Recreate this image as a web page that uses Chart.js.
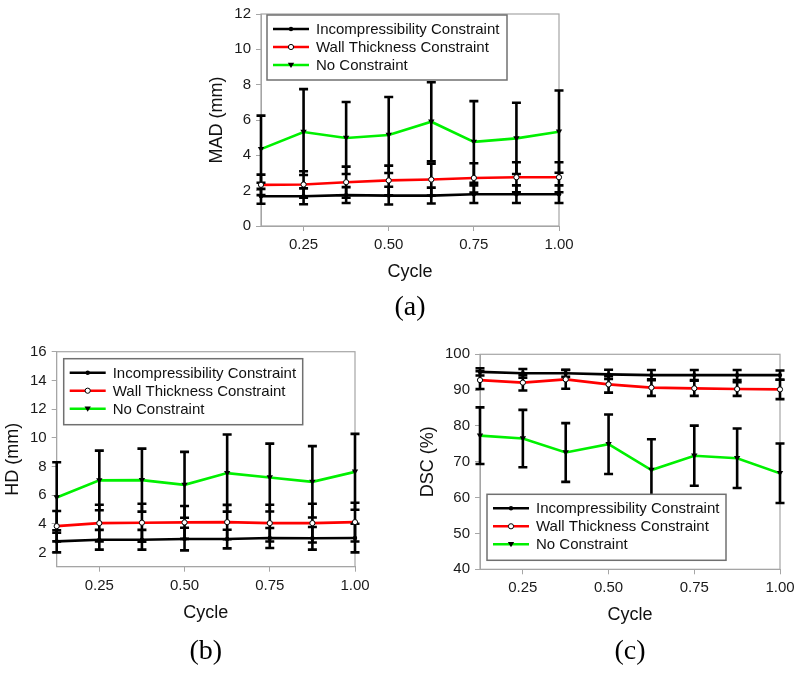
<!DOCTYPE html>
<html>
<head>
<meta charset="utf-8">
<script src="https://cdn.jsdelivr.net/npm/chart.js@4.4.1/dist/chart.umd.min.js"></script>
<style>
  html, body { margin: 0; padding: 0; background: #fff; }
  body { width: 800px; height: 676px; position: relative; overflow: hidden; }
  canvas { position: absolute; }
</style>
</head>
<body>
<canvas id="chartA" width="420" height="330" style="left:170px;top:0px"></canvas>
<canvas id="chartB" width="380" height="341" style="left:0px;top:335px"></canvas>
<canvas id="chartC" width="400" height="341" style="left:400px;top:335px"></canvas>
<script>
// cardiac cycle fraction (x axis)
const cycles = [0.125, 0.25, 0.375, 0.5, 0.625, 0.75, 0.875, 1.0];
const cycleTicks = [0.25, 0.5, 0.75, 1.0];
const seriesNames = ['Incompressibility Constraint', 'Wall Thickness Constraint', 'No Constraint'];

// (a) MAD (mm)
const madIncomp   = [1.68, 1.68, 1.75, 1.72, 1.72, 1.80, 1.80, 1.80];
const madIncompSd = [0.42, 0.45, 0.45, 0.50, 0.45, 0.50, 0.50, 0.50];
const madWall     = [2.33, 2.35, 2.48, 2.58, 2.63, 2.72, 2.76, 2.76];
const madWallSd   = [0.58, 0.75, 0.88, 0.84, 0.90, 0.83, 0.85, 0.85];
const madNone     = [4.35, 5.32, 4.98, 5.15, 5.90, 4.76, 4.96, 5.34];
const madNoneSd   = [1.90, 2.43, 2.04, 2.15, 2.24, 2.31, 2.02, 2.33];
const madTicks    = [0, 2, 4, 6, 8, 10, 12];

// (b) HD (mm)
const hdIncomp   = [2.77, 2.88, 2.88, 2.93, 2.93, 3.00, 2.98, 3.00];
const hdIncompSd = [0.77, 0.69, 0.69, 0.79, 0.65, 0.70, 0.79, 1.00];
const hdWall     = [3.83, 4.04, 4.07, 4.09, 4.11, 4.04, 4.04, 4.11];
const hdWallSd   = [1.06, 1.28, 1.32, 1.15, 1.20, 1.28, 1.35, 1.35];
const hdNone     = [5.83, 7.02, 7.04, 6.71, 7.53, 7.22, 6.92, 7.62];
const hdNoneSd   = [2.46, 2.08, 2.20, 2.30, 2.69, 2.37, 2.49, 2.65];
const hdTicks    = [2, 4, 6, 8, 10, 12, 14, 16];

// (c) DSC (%)
const dscIncomp   = [95.1, 94.7, 94.7, 94.4, 94.2, 94.2, 94.2, 94.2];
const dscIncompSd = [1.0, 1.2, 1.0, 1.3, 1.4, 1.4, 1.4, 1.3];
const dscWall     = [92.8, 92.1, 93.0, 91.6, 90.7, 90.5, 90.3, 90.2];
const dscWallSd   = [2.5, 2.2, 2.6, 2.3, 2.3, 2.1, 1.9, 2.7];
const dscNone     = [77.3, 76.5, 72.6, 74.9, 67.7, 71.7, 71.0, 66.8];
const dscNoneSd   = [7.9, 8.0, 8.2, 8.3, 8.6, 8.4, 8.3, 8.3];
const dscTicks    = [40, 50, 60, 70, 80, 90, 100];

const SANS = "'Liberation Sans', Arial, sans-serif";
const SERIF = "'Liberation Serif', 'Times New Roman', serif";
const AXIS_GRAY = '#a6a6a6';

const seriesStyles = [
    { color: '#000000', marker: 'dot' },
    { color: '#ff0000', marker: 'hollow' },
    { color: '#00f000', marker: 'tri' }
];

function drawMarker(ctx, kind, x, y) {
    ctx.save();
    ctx.fillStyle = '#000';
    ctx.strokeStyle = '#000';
    ctx.lineWidth = 1;
    ctx.beginPath();
    if (kind === 'dot') {
        ctx.arc(x, y, 2.2, 0, Math.PI * 2);
        ctx.fill();
    } else if (kind === 'hollow') {
        ctx.arc(x, y, 2.6, 0, Math.PI * 2);
        ctx.fillStyle = '#fff';
        ctx.fill();
        ctx.stroke();
    } else {
        ctx.moveTo(x - 3.2, y - 2.2);
        ctx.lineTo(x + 3.2, y - 2.2);
        ctx.lineTo(x, y + 3);
        ctx.closePath();
        ctx.fill();
    }
    ctx.restore();
}

// gray frame round the plot area
const framePlugin = {
    id: 'frame',
    beforeDatasetsDraw(chart) {
        const a = chart.chartArea;
        const ctx = chart.ctx;
        ctx.save();
        ctx.strokeStyle = AXIS_GRAY;
        ctx.lineWidth = 1.2;
        ctx.strokeRect(a.left, a.top, a.right - a.left, a.bottom - a.top);
        ctx.restore();
    }
};

// black error bars (+/- sd) on every point, then the markers on top again
const errorBarPlugin = {
    id: 'errorBars',
    afterDatasetsDraw(chart) {
        const ctx = chart.ctx;
        const yScale = chart.scales.y;
        ctx.save();
        ctx.strokeStyle = '#000';
        ctx.lineWidth = 2.6;
        chart.data.datasets.forEach((ds, i) => {
            const meta = chart.getDatasetMeta(i);
            meta.data.forEach((pt, j) => {
                const v = ds.data[j].y;
                const sd = ds.errors[j];
                const yTop = yScale.getPixelForValue(v + sd);
                const yBot = yScale.getPixelForValue(v - sd);
                ctx.beginPath();
                ctx.moveTo(pt.x, yTop);
                ctx.lineTo(pt.x, yBot);
                ctx.moveTo(pt.x - 4.5, yTop);
                ctx.lineTo(pt.x + 4.5, yTop);
                ctx.moveTo(pt.x - 4.5, yBot);
                ctx.lineTo(pt.x + 4.5, yBot);
                ctx.stroke();
            });
        });
        ctx.restore();
        chart.data.datasets.forEach((ds, i) => {
            chart.getDatasetMeta(i).data.forEach(pt => drawMarker(ctx, ds.marker, pt.x, pt.y));
        });
    }
};

// boxed legend inside the plot, line sample with marker
const boxLegendPlugin = {
    id: 'boxLegend',
    afterDraw(chart, args, opts) {
        const a = chart.chartArea;
        const ctx = chart.ctx;
        const left = a.left + opts.dx;
        const top = opts.fromBottom ? a.bottom - opts.dy - opts.h : a.top + opts.dy;
        ctx.save();
        ctx.fillStyle = '#fff';
        ctx.fillRect(left, top, opts.w, opts.h);
        ctx.strokeStyle = '#707070';
        ctx.lineWidth = 1.5;
        ctx.strokeRect(left, top, opts.w, opts.h);
        ctx.font = '15px ' + SANS;
        ctx.textBaseline = 'middle';
        ctx.textAlign = 'left';
        chart.data.datasets.forEach((ds, i) => {
            const y = top + 14 + i * 18;
            ctx.strokeStyle = ds.borderColor;
            ctx.lineWidth = 2.6;
            ctx.beginPath();
            ctx.moveTo(left + 6, y);
            ctx.lineTo(left + 42, y);
            ctx.stroke();
            drawMarker(ctx, ds.marker, left + 24, y);
            ctx.fillStyle = '#111';
            ctx.fillText(ds.label, left + 49, y + 1);
        });
        ctx.restore();
    }
};

function makePanel(id, p) {
    const values = [p.incomp, p.wall, p.none];
    const errors = [p.incompSd, p.wallSd, p.noneSd];
    const datasets = seriesNames.map((name, i) => ({
        label: name,
        data: cycles.map((c, j) => ({ x: c, y: values[i][j] })),
        errors: errors[i],
        marker: seriesStyles[i].marker,
        borderColor: seriesStyles[i].color,
        backgroundColor: seriesStyles[i].color,
        borderWidth: 2.6,
        pointRadius: 0,
        tension: 0
    }));

    return new Chart(document.getElementById(id), {
        type: 'line',
        data: { datasets: datasets },
        options: {
            responsive: false,
            animation: false,
            events: [],
            layout: { padding: p.padding },
            scales: {
                x: {
                    type: 'linear',
                    min: cycles[0],
                    max: cycles[cycles.length - 1],
                    afterBuildTicks: axis => { axis.ticks = cycleTicks.map(v => ({ value: v })); },
                    afterFit: axis => { axis.height = p.xHeight; },
                    ticks: {
                        padding: 5,
                        color: '#1a1a1a',
                        font: { family: SANS, size: 15 },
                        callback: v => Number(v).toFixed(2)
                    },
                    grid: { drawOnChartArea: false, tickLength: 5, color: AXIS_GRAY },
                    border: { color: AXIS_GRAY },
                    title: {
                        display: true,
                        text: 'Cycle',
                        color: '#111',
                        font: { family: SANS, size: 18 },
                        padding: { top: 0, bottom: p.xTitlePad }
                    }
                },
                y: {
                    min: p.yMin,
                    max: p.yMax,
                    afterBuildTicks: axis => { axis.ticks = p.yTicks.map(v => ({ value: v })); },
                    afterFit: axis => { axis.width = p.yWidth; },
                    ticks: {
                        padding: 5,
                        color: '#1a1a1a',
                        font: { family: SANS, size: 15 }
                    },
                    grid: { drawOnChartArea: false, tickLength: 5, color: AXIS_GRAY },
                    border: { color: AXIS_GRAY },
                    title: {
                        display: true,
                        text: p.yTitle,
                        color: '#111',
                        font: { family: SANS, size: 18 },
                        padding: { top: p.yTitlePad, bottom: 0 }
                    }
                }
            },
            plugins: {
                legend: { display: false },
                tooltip: { enabled: false },
                title: {
                    display: true,
                    position: 'bottom',
                    fullSize: false,
                    text: p.caption,
                    color: '#000',
                    font: { family: SERIF, size: 28, weight: 'normal' },
                    padding: { top: p.captionPad, bottom: 0 }
                },
                boxLegend: p.legend
            }
        },
        plugins: [framePlugin, errorBarPlugin, boxLegendPlugin]
    });
}

makePanel('chartA', {
    incomp: madIncomp, incompSd: madIncompSd,
    wall: madWall, wallSd: madWallSd,
    none: madNone, noneSd: madNoneSd,
    yMin: 0, yMax: 12, yTicks: madTicks, yTitle: 'MAD (mm)',
    caption: '(a)',
    padding: { left: 0, top: 12, right: 31, bottom: 5.2 },
    yWidth: 91, yTitlePad: 36.2,
    xHeight: 62, xTitlePad: 5.2, captionPad: 3.2,
    legend: { dx: 6, dy: 1, w: 240, h: 65, fromBottom: false }
});

makePanel('chartB', {
    incomp: hdIncomp, incompSd: hdIncompSd,
    wall: hdWall, wallSd: hdWallSd,
    none: hdNone, noneSd: hdNoneSd,
    yMin: 1, yMax: 16, yTicks: hdTicks, yTitle: 'HD (mm)',
    caption: '(b)',
    padding: { left: 0, top: 16.7, right: 25, bottom: 7.5 },
    yWidth: 56.7, yTitlePad: 2.2,
    xHeight: 62, xTitlePad: 5.2, captionPad: 6.2,
    legend: { dx: 7, dy: 7, w: 239, h: 66, fromBottom: false }
});

makePanel('chartC', {
    incomp: dscIncomp, incompSd: dscIncompSd,
    wall: dscWall, wallSd: dscWallSd,
    none: dscNone, noneSd: dscNoneSd,
    yMin: 40, yMax: 100, yTicks: dscTicks, yTitle: 'DSC (%)',
    caption: '(c)',
    padding: { left: 0, top: 19.3, right: 20, bottom: 7.5 },
    yWidth: 80, yTitlePad: 17.2,
    xHeight: 61.7, xTitlePad: 5.2, captionPad: 3.9,
    legend: { dx: 7, dy: 9, w: 239, h: 66, fromBottom: true }
});
</script>
</body>
</html>
